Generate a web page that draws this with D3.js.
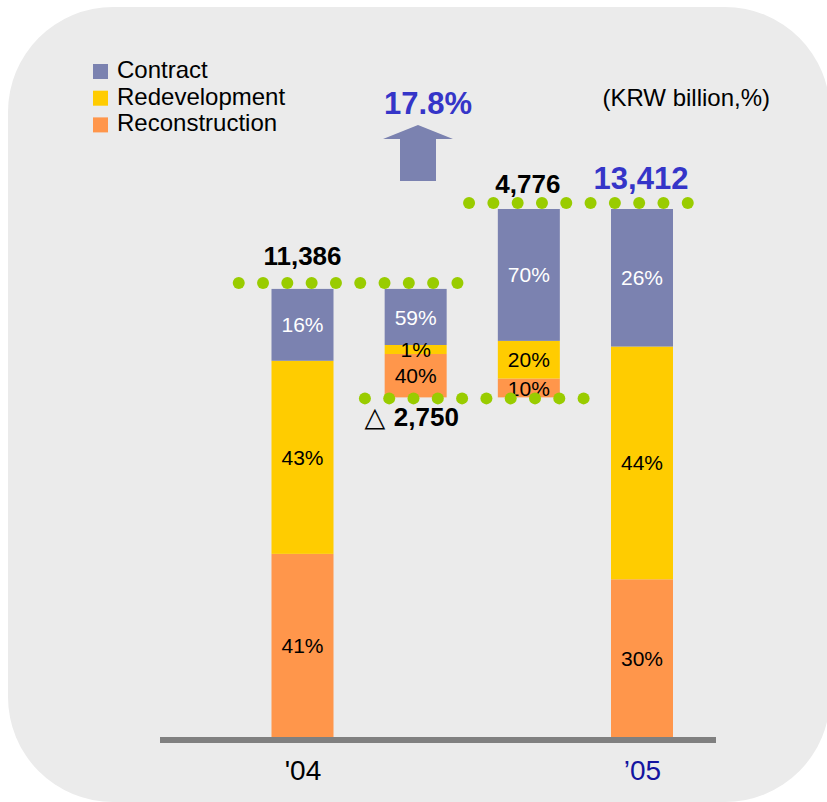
<!DOCTYPE html>
<html>
<head>
<meta charset="utf-8">
<script src="https://cdn.jsdelivr.net/npm/d3@7"></script>
<style>
  body { margin: 0; background: #fff; }
  svg text { font-family: "Liberation Sans", Arial, sans-serif; }
</style>
</head>
<body>
<svg id="chart" width="827" height="802"></svg>
<script>
// ---- data ----
const steps = ['04', 'dec', 'inc', '05'];
const stepKind = ['total', 'delta', 'delta', 'total'];
const stepValue = [11386, -2750, 4776, 13412];
const stepLabel = ['11,386', '2,750', '4,776', '13,412'];
const xLabels = ["'04", '', '', '\u201905'];

const series = ['Reconstruction', 'Redevelopment', 'Contract'];   // bottom -> top
const shareRecon = [41, 40, 10, 30];
const shareRedev = [43, 1, 20, 44];
const shareContract = [16, 59, 70, 26];

const colors = { Contract: '#7b82b0', Redevelopment: '#ffcc00', Reconstruction: '#ff964b' };
const legendOrder = ['Contract', 'Redevelopment', 'Reconstruction'];

// ---- setup ----
const svg = d3.select('#chart');
const baseY = 738;
const barW = 62;

svg.append('rect')
  .attr('x', 8).attr('y', 7)
  .attr('width', 822).attr('height', 795)
  .attr('rx', 105)
  .attr('fill', '#ebebeb');

const x = d3.scalePoint().domain(steps).range([302.5, 642]);
const y = d3.scaleLinear().domain([0, 13412]).range([baseY, baseY - 529]);

// work out start/end level of each step
let running = 0;
const bars = steps.map((s, i) => {
  let lo, hi;
  if (stepKind[i] === 'total') {
    lo = 0; hi = stepValue[i]; running = stepValue[i];
  } else {
    const next = running + stepValue[i];
    lo = Math.min(running, next); hi = Math.max(running, next);
    running = next;
  }
  const shares = [shareRecon[i], shareRedev[i], shareContract[i]];
  return { key: s, lo, hi, shares, i };
});

// segments: stacked bottom-up, thin ones kept visible, top fills the rest
const minSeg = 9;
const segs = [];
bars.forEach(b => {
  const yTop = y(b.hi), yBot = y(b.lo);
  const h = yBot - yTop;
  let cur = yBot;
  b.shares.forEach((p, k) => {
    let sh = k === b.shares.length - 1 ? cur - yTop : Math.max(h * p / 100, minSeg);
    segs.push({ bar: b, name: series[k], pct: p, y0: cur - sh, y1: cur });
    cur -= sh;
  });
});

const g = svg.append('g');
g.selectAll('rect.seg')
  .data(segs)
  .join('rect')
  .attr('class', 'seg')
  .attr('x', d => x(d.bar.key) - barW / 2)
  .attr('y', d => d.y0)
  .attr('width', barW)
  .attr('height', d => d.y1 - d.y0)
  .attr('fill', d => colors[d.name]);

g.selectAll('text.pct')
  .data(segs)
  .join('text')
  .attr('class', 'pct')
  .attr('x', d => x(d.bar.key))
  .attr('y', d => (d.y0 + d.y1) / 2)
  .attr('dy', '0.36em')
  .attr('text-anchor', 'middle')
  .attr('font-size', 21)
  .attr('fill', d => d.name === 'Contract' ? '#fff' : '#000')
  .text(d => d.pct + '%');

// dotted connector lines between neighbouring steps
const connectors = [];
for (let i = 0; i < bars.length - 1; i++) {
  const a = bars[i], b = bars[i + 1];
  const level = stepKind[i] === 'total' ? a.hi : (stepValue[i] < 0 ? a.lo : a.hi);
  connectors.push({ level, mid: (x(a.key) + x(b.key)) / 2, low: stepValue[i] < 0 });
}
const dotGap = 24.3;
const dotNudge = [-11, 2, -7];
connectors.forEach((c, ci) => {
  const cy = y(c.level) + (c.low ? 1 : -6);
  const start = c.mid + dotNudge[ci] - dotGap * 4.5;
  const pts = d3.range(10).map(k => start + k * dotGap);
  svg.append('g').selectAll('circle')
    .data(pts)
    .join('circle')
    .attr('cx', d => d)
    .attr('cy', cy)
    .attr('r', 6)
    .attr('fill', '#99cc00');
});

// value labels
bars.forEach((b, i) => {
  const cx = x(b.key);
  if (i === 0) {
    svg.append('text').attr('x', cx).attr('y', y(b.hi) - 24)
      .attr('text-anchor', 'middle').attr('font-size', 26).attr('font-weight', 'bold')
      .text(stepLabel[i]);
  } else if (i === 1) {
    const t = svg.append('text').attr('x', cx - 4).attr('y', y(b.lo) + 29)
      .attr('text-anchor', 'middle').attr('font-size', 26).attr('font-weight', 'bold');
    t.append('tspan').attr('font-family', 'DejaVu Sans').attr('font-weight', 'normal')
      .attr('font-size', 27).text('\u25B3 ');
    t.append('tspan').text(stepLabel[i]);
  } else if (i === 2) {
    svg.append('text').attr('x', cx - 1).attr('y', y(b.hi) - 16)
      .attr('text-anchor', 'middle').attr('font-size', 26).attr('font-weight', 'bold')
      .text(stepLabel[i]);
  } else {
    svg.append('text').attr('x', cx - 1).attr('y', y(b.hi) - 20)
      .attr('text-anchor', 'middle').attr('font-size', 31).attr('font-weight', 'bold')
      .attr('fill', '#3535c8')
      .text(stepLabel[i]);
  }
});

// growth arrow
const growth = (stepValue[3] / stepValue[0] - 1) * 100;
svg.append('path')
  .attr('d', d3.line()([[400, 181], [400, 139], [383, 139], [418, 125], [453, 139], [436, 139], [436, 181]]) + 'Z')
  .attr('fill', colors.Contract);
svg.append('text').attr('x', 428).attr('y', 114)
  .attr('text-anchor', 'middle').attr('font-size', 31).attr('font-weight', 'bold')
  .attr('fill', '#3535c8')
  .text(growth.toFixed(1) + '%');

// unit note
svg.append('text').attr('x', 770).attr('y', 106)
  .attr('text-anchor', 'end').attr('font-size', 24)
  .text('(KRW billion,%)');

// x axis
svg.append('rect')
  .attr('x', 160).attr('y', baseY - 1)
  .attr('width', 556).attr('height', 6)
  .attr('fill', '#808080');

const axis = svg.append('g')
  .attr('transform', `translate(0,${baseY})`)
  .call(d3.axisBottom(x).tickSize(0).tickFormat((d, i) => xLabels[i]));
axis.select('.domain').remove();
axis.selectAll('text')
  .attr('y', 42)
  .attr('dy', 0)
  .attr('font-size', 28)
  .attr('font-family', '"Liberation Sans", Arial, sans-serif')
  .attr('fill', (d, i) => i === 3 ? '#1414a0' : '#000');

// legend
const leg = svg.append('g').selectAll('g')
  .data(legendOrder)
  .join('g')
  .attr('transform', (d, i) => `translate(93,${64 + i * 26.7})`);
leg.append('rect').attr('width', 15).attr('height', 15).attr('fill', d => colors[d]);
leg.append('text').attr('x', 24).attr('y', 14).attr('font-size', 24).text(d => d);
</script>
</body>
</html>
